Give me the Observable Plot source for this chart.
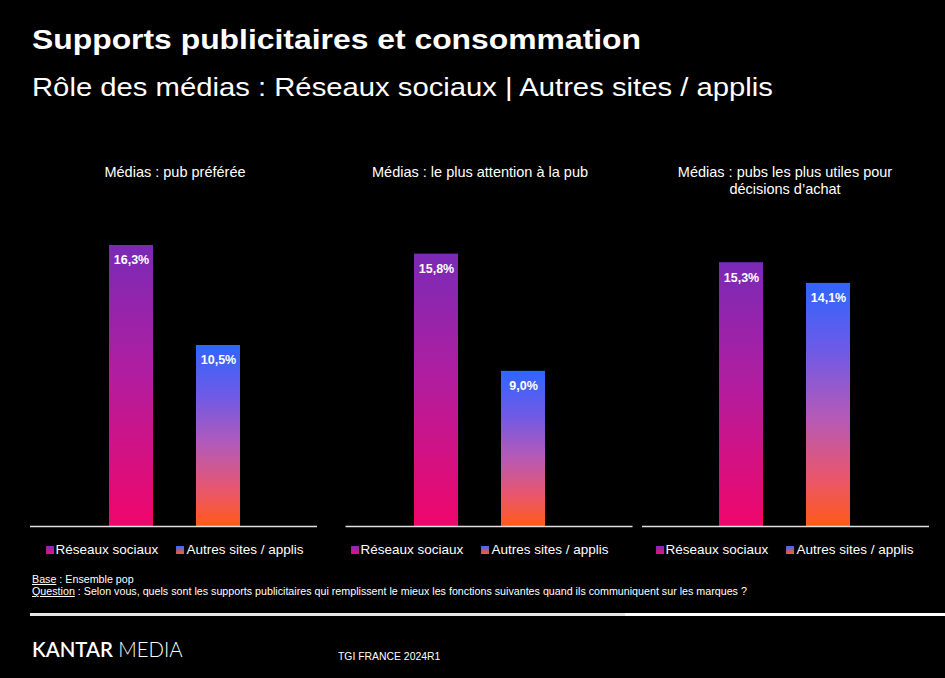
<!DOCTYPE html>
<html>
<head>
<meta charset="utf-8">
<script src="https://cdn.jsdelivr.net/npm/d3@7"></script>
<script src="https://cdn.jsdelivr.net/npm/@observablehq/plot@0.6"></script>
<style>
  html, body { margin: 0; padding: 0; background: #000; }
  #page { position: relative; width: 945px; height: 678px; background: #000; overflow: hidden; color: #fff; font-family: "Liberation Sans", Arial, sans-serif; }
  .abs { position: absolute; white-space: nowrap; transform-origin: left top; }
  .legend { position: absolute; top: 543px; transform: translateX(-50%); display: flex; gap: 18px; font-size: 13.5px; line-height: 14px; white-space: nowrap; }
  .legend .item { display: flex; align-items: center; }
  .legend .sw { width: 8px; height: 8px; margin-right: 2px; }
  .sw.r { background: linear-gradient(to bottom, #8a2ab4, #e8107a); }
  .sw.a { background: linear-gradient(to bottom, #3a68ff, #ff5a20); }
</style>
</head>
<body>
<div id="page">
  <div class="abs" style="left:32px; top:26px; font-size:28px; line-height:28px; font-weight:bold; transform:scaleX(1.138);">Supports publicitaires et consommation</div>
  <div class="abs" style="left:32px; top:75px; font-size:25px; line-height:25px; transform:scaleX(1.17);">Rôle des médias : Réseaux sociaux | Autres sites / applis</div>
  <div id="chart" class="abs" style="left:0; top:150px;"></div>
  <div id="legends"></div>
  <div class="abs" style="left:32px; top:574px; font-size:10px; line-height:12px; transform:scaleX(1.07);"><u>Base</u> : Ensemble pop</div>
  <div class="abs" style="left:32px; top:586px; font-size:10px; line-height:12px; transform:scaleX(1.07);"><u>Question</u> : Selon vous, quels sont les supports publicitaires qui remplissent le mieux les fonctions suivantes quand ils communiquent sur les marques ?</div>
  <div class="abs" style="left:30px; right:0; top:613px; height:3px; background:linear-gradient(to right, #e6e6e6 0%, #e6e6e6 65%, #fff 65%, #fff 100%);"></div>
  <div class="abs" style="left:32px; top:638px; font-family:Lato, 'Open Sans', sans-serif; font-size:21px; line-height:22px; transform:scaleX(0.97);"><span style="font-weight:600;">KANTAR</span> <span style="font-weight:300;">MEDIA</span></div>
  <div class="abs" style="left:338px; top:651px; font-size:10px; line-height:12px; transform:scaleX(1.04);">TGI FRANCE 2024R1</div>
</div>
<script>
const panels = ["Médias : pub préférée", "Médias : le plus attention à la pub", "Médias : pubs les plus utiles pour\ndécisions d’achat"];
const series = ["Réseaux sociaux", "Autres sites / applis"];
const reseauxValues = [16.3, 15.8, 15.3];
const autresValues = [10.5, 9.0, 14.1];

const reseauxData = panels.map((p, i) => ({panel: p, series: series[0], value: reseauxValues[i]}));
const autresData = panels.map((p, i) => ({panel: p, series: series[1], value: autresValues[i]}));
const allData = reseauxData.concat(autresData);
const fmt = v => v.toFixed(1).replace(".", ",") + "%";
const baselineShift = [-1, 9.5, 1];

const chart = Plot.plot({
  width: 945,
  height: 386,
  marginTop: 31.2,
  marginBottom: 10,
  marginLeft: 30,
  marginRight: 17,
  style: {background: "transparent", color: "white", fontFamily: "'Liberation Sans', Arial, sans-serif", overflow: "visible"},
  fx: {domain: panels, paddingInner: 0.0606, paddingOuter: 0, axis: null},
  x: {domain: series, paddingInner: 0.4886, paddingOuter: 0.875, axis: null},
  y: {domain: [0, 20], axis: null},
  marks: [
    Plot.barY(reseauxData, {fx: "panel", x: "series", y: "value", fill: "url(#gradR)"}),
    Plot.barY(autresData, {fx: "panel", x: "series", y: "value", fill: "url(#gradA)"}),
    ...panels.map((p, i) => Plot.ruleY([{panel: p, v: 0}], {fx: "panel", y: "v", stroke: "#e0e0e0", strokeWidth: 1.5, dx: baselineShift[i]})),
    Plot.text(allData, {fx: "panel", x: "series", y: "value", text: d => fmt(d.value), dy: 15, fill: "white", fontWeight: "bold", fontSize: 12.5, lineAnchor: "middle"}),
    Plot.text(panels, {fx: d => d, text: d => d, frameAnchor: "top", lineAnchor: "top", dy: -16.5, fontSize: 14.5, lineHeight: 1.17, fill: "white"})
  ]
});

const defs = d3.select(chart).insert("defs", ":first-child");
const gR = defs.append("linearGradient").attr("id", "gradR").attr("x1", 0).attr("y1", 0).attr("x2", 0).attr("y2", 1);
[["0%", "#7a2ab6"], ["45%", "#b01ea0"], ["100%", "#f0066a"]].forEach(([o, c]) => gR.append("stop").attr("offset", o).attr("stop-color", c));
const gA = defs.append("linearGradient").attr("id", "gradA").attr("x1", 0).attr("y1", 0).attr("x2", 0).attr("y2", 1);
[["0%", "#2f66ff"], ["28%", "#6e5ae6"], ["55%", "#b45ab8"], ["80%", "#e8566c"], ["100%", "#ff5a1a"]].forEach(([o, c]) => gA.append("stop").attr("offset", o).attr("stop-color", c));

document.getElementById("chart").appendChild(chart);

// legends centered under each facet
const fxScale = chart.scale("fx");
const legends = document.getElementById("legends");
panels.forEach(p => {
  const cx = fxScale.apply(p) + fxScale.bandwidth / 2;
  const div = document.createElement("div");
  div.className = "legend";
  div.style.left = cx + "px";
  div.innerHTML = `<div class="item"><div class="sw r"></div>${series[0]}</div><div class="item"><div class="sw a"></div>${series[1]}</div>`;
  legends.appendChild(div);
});
</script>
</body>
</html>
